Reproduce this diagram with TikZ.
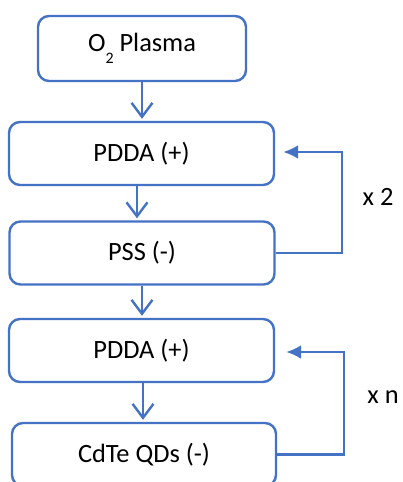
\documentclass[tikz,border=0pt]{standalone}
\usepackage{fontspec}
\setmainfont{Carlito}
\usetikzlibrary{arrows.meta, positioning}
\definecolor{lineblue}{RGB}{68,114,196}

\begin{document}
\begin{tikzpicture}[
    x=1bp, y=1bp,
    stage/.style={rectangle, draw=lineblue, line width=2.4bp, fill=white, rounded corners=11bp, minimum width=265bp, minimum height=63bp, inner sep=0pt, font=\fontsize{26.5}{30}\selectfont},
    flow/.style={draw=lineblue, line width=2.4bp, -{Straight Barb[length=14pt, width=21pt, line width=2.4pt]}},
    loopback/.style={draw=lineblue, line width=2.4bp, -{Latex[length=15pt, width=14pt, fill=lineblue]}},
    count/.style={font=\fontsize{26.5}{30}\selectfont}
]
\useasboundingbox (0,0) rectangle (402,-482);

% Steps
\node[stage, minimum width=208bp, minimum height=65bp] (plasma) at (142,-48.5) {O\raisebox{-0.45em}{\fontsize{16}{16}\selectfont 2}\ Plasma};
\node[stage] (pdda1) at (141.5,-153.5) {PDDA (+)};
\node[stage] (pss) at (142,-253) {PSS (-)};
\node[stage] (pdda2) at (141.5,-350.5) {PDDA (+)};
\node[stage, minimum width=264bp] (cdte) at (144,-454.5) {CdTe QDs (-)};

% Arrows
\draw[flow] (plasma.south) -- ([yshift=2bp]plasma.south |- pdda1.north);
\draw[flow] ([xshift=-4.5bp]pdda1.south) -- ([xshift=-4.5bp, yshift=2bp]pdda1.south |- pss.north);
\draw[flow] (pss.south) -- ([yshift=2bp]pss.south |- pdda2.north);
\draw[flow] ([xshift=1.5bp]pdda2.south) -- ([xshift=1.5bp, yshift=2bp]pdda2.south |- cdte.north);

% Repeats
\draw[loopback] (pss.east) -- ++(66,0) |- ([xshift=8bp, yshift=1.5bp]pdda1.east);
\draw[loopback] (cdte.east) -- ++(67,0) |- ([xshift=11bp, yshift=-1.5bp]pdda2.east);
\node[count] (twice) at (378,-197) {x 2};
\node[count] (ntimes) at (383,-397) {x n};

\end{tikzpicture}
\end{document}
